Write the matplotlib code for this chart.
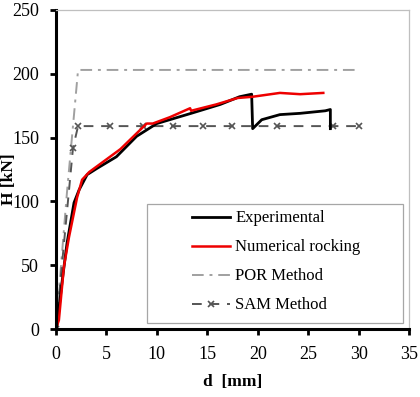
import matplotlib.pyplot as plt
from matplotlib.patches import Rectangle

# Experimental curve (d [mm], H [kN])
exp_d = [0, 0.1, 0.6, 1.1, 1.8, 2.3, 3.1, 4.1, 6.0, 8.0, 10.0, 13.4, 16.3, 18.2, 19.4,
         19.5, 20.4, 22.2, 24.2, 26.7, 27.2, 27.2]
exp_H = [0, 2, 36, 67, 99, 109, 121, 126, 135, 151, 161, 169, 176, 182, 184,
         157, 164, 168, 169, 171, 172, 157]

# Numerical rocking
num_d = [0, 0.3, 0.8, 1.3, 2.1, 2.6, 3.3, 6.4, 9.0, 9.6, 11.3, 13.3, 13.4, 15.9,
         18.0, 19.5, 22.2, 24.2, 26.5]
num_H = [0, 7, 49, 72, 103, 117, 123, 141, 161, 161, 166, 173, 171, 176,
         181, 182, 185, 184, 185]

# POR Method
por_d = [0, 1.1, 2.2, 30]
por_H = [0, 107, 203, 203]

# SAM Method
sam_d = [0, 1.7, 2.2, 5.4, 8.6, 11.6, 14.6, 17.5, 21.9, 27.5, 30]
sam_H = [0, 142, 159, 159, 159, 159, 159, 159, 159, 159, 159]

plt.rcParams['font.family'] = ['Liberation Serif', 'DejaVu Serif']

fig = plt.figure(figsize=(4.2, 3.97), dpi=100)
ax = fig.add_axes([0.133, 0.171, 0.841, 0.804])

ax.plot(por_d, por_H, color='#a0a0a0', lw=1.4, dashes=(6, 3, 1.5, 3), label='POR Method')
ax.plot(sam_d, sam_H, color='#555555', lw=1.4, dashes=(5, 4), marker='x', ms=5,
        mew=1.2, label='SAM Method')
ax.plot(exp_d, exp_H, color='black', lw=2.0, label='Experimental')
ax.plot(num_d, num_H, color='#ee0000', lw=1.8, label='Numerical rocking')

ax.set_xlim(0, 35)
ax.set_ylim(0, 250)
ax.set_xticks(range(0, 36, 5))
ax.set_yticks(range(0, 251, 50))

for s in ['left', 'bottom']:
    ax.spines[s].set_linewidth(2.2)
    ax.spines[s].set_color('black')
for s in ['top', 'right']:
    ax.spines[s].set_linewidth(0.9)
    ax.spines[s].set_color('#bfbfbf')

ax.tick_params(axis='both', direction='out', length=4, width=2, labelsize=13)
ax.tick_params(axis='x', pad=8)
ax.tick_params(axis='y', pad=8)

ax.set_xlabel('d  [mm]', fontsize=12.5, fontweight='bold')
ax.set_ylabel('H [kN]', fontsize=12.5, fontweight='bold')
ax.xaxis.set_label_coords(0.50, -0.14)
ax.yaxis.set_label_coords(-0.11, 0.47)

ax.add_patch(Rectangle((0.258, 0.019), 0.725, 0.373, transform=ax.transAxes,
                       facecolor='white', edgecolor='#a6a6a6', lw=0.9, zorder=4))

handles, labels = ax.get_legend_handles_labels()
order = [2, 3, 0, 1]
leg = ax.legend([handles[i] for i in order], [labels[i] for i in order],
                loc='upper left', bbox_to_anchor=(0.385, 0.372), frameon=False,
                borderpad=0, borderaxespad=0, handlelength=2.3, handletextpad=0.3,
                labelspacing=0.78, fontsize=12)
leg.set_zorder(5)

plt.savefig('out.png', dpi=100)
